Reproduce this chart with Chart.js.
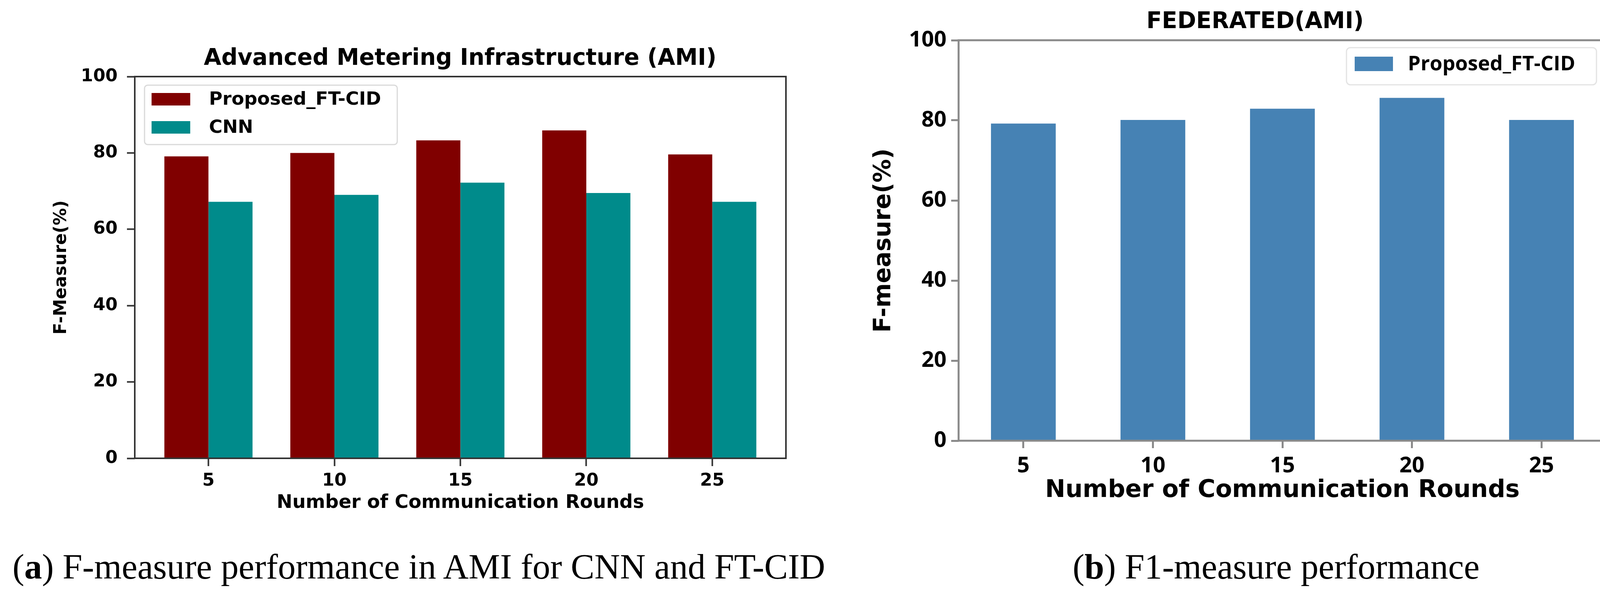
<!DOCTYPE html>
<html><head><meta charset="utf-8">
<script src="https://cdn.jsdelivr.net/npm/chart.js@4.4.0/dist/chart.umd.min.js"></script>
<style>
html,body{margin:0;padding:0;background:#fff;width:4141px;height:1528px;overflow:hidden;}
#chartA{position:absolute;left:0;top:0;}
#chartB{position:absolute;left:2100px;top:0;}
.cap{position:absolute;font-family:'Liberation Serif',serif;white-space:nowrap;color:#000;}
</style></head><body>
<canvas id="chartA" width="2357" height="1340"></canvas>
<canvas id="chartB" width="2041" height="1340"></canvas>
<div class="cap" id="capA" style="left:32px">(<b>a</b>) F-measure performance in AMI for CNN and FT-CID</div>
<div class="cap" id="capB" style="left:2746px">(<b>b</b>) F1-measure performance</div>
<script>
// ---- data ----
const rounds = ['5', '10', '15', '20', '25'];
const amiProposed = [79.1, 80.0, 83.3, 85.9, 79.6];
const amiCNN = [67.2, 69.0, 72.2, 69.5, 67.2];
const fedProposed = [79.2, 80.1, 82.9, 85.6, 80.1];
const yTickValues = [0, 20, 40, 60, 80, 100];
const seriesNames = ['Proposed_FT-CID', 'CNN'];
const titleA = 'Advanced Metering Infrastructure (AMI)';
const titleB = 'FEDERATED(AMI)';
const xTitle = 'Number of Communication Rounds';
const yTitleA = 'F-Measure(%)';
const yTitleB = 'F-measure(%)';

// ---- plugins ----
const frame = {
  id: 'frame',
  afterDatasetsDraw(chart, args, o) {
    const {ctx, chartArea: a} = chart;
    ctx.save();
    ctx.strokeStyle = o.color; ctx.lineWidth = o.width;
    ctx.strokeRect(a.left, a.top, a.right - a.left, a.bottom - a.top);
    ctx.restore();
  }
};
const legendBox = {
  id: 'legendBox',
  afterDatasetsDraw(chart, args, o) {
    const {ctx, chartArea: a} = chart;
    const left = o.anchor === 'right' ? a.right - o.offsetX - o.width : a.left + o.offsetX;
    const top = a.top + o.offsetY;
    ctx.save();
    ctx.fillStyle = 'rgba(255,255,255,0.85)';
    ctx.strokeStyle = o.borderColor; ctx.lineWidth = o.borderWidth;
    ctx.beginPath(); ctx.roundRect(left, top, o.width, o.height, o.radius); ctx.fill(); ctx.stroke();
    ctx.font = o.font; ctx.textBaseline = 'middle'; ctx.textAlign = 'left';
    chart.data.datasets.forEach((ds, i) => {
      const sy = top + o.swatchY + i * o.rowGap;
      ctx.fillStyle = ds.backgroundColor;
      ctx.fillRect(left + o.swatchX, sy, o.swatchW, o.swatchH);
      ctx.fillStyle = '#000';
      ctx.fillText(ds.label, left + o.textX, sy + o.swatchH / 2 + 2);
    });
    ctx.restore();
  }
};
const titleShift = {
  id: 'titleShift',
  afterLayout(chart, args, o) {
    const t = chart.titleBlock;
    if (t) { t.left += o.dx; t.right += o.dx; }
  }
};

const dv = (size) => ({family: 'DejaVu Sans', weight: 'bold', size});
const os = (size) => ({family: 'Open Sans', weight: 'bold', size});

// ---- chart (a) ----
new Chart(document.getElementById('chartA'), {
  type: 'bar',
  data: {
    datasets: [
      {label: seriesNames[0], data: amiProposed.map((v, i) => ({x: i, y: v})), backgroundColor: '#800000',
       categoryPercentage: 0.7, barPercentage: 1.0},
      {label: seriesNames[1], data: amiCNN.map((v, i) => ({x: i, y: v})), backgroundColor: '#008b8b',
       categoryPercentage: 0.7, barPercentage: 1.0}
    ]
  },
  options: {
    responsive: false, animation: false, devicePixelRatio: 1,
    layout: {padding: {left: 0, right: 345, top: 0, bottom: 0}},
    plugins: {
      legend: {display: false}, tooltip: {enabled: false},
      title: {display: true, text: titleA, color: '#000', font: dv(58), padding: {top: 116, bottom: 10.4}},
      titleShift: {dx: 172},
      frame: {color: '#333333', width: 4},
      legendBox: {anchor: 'left', offsetX: 25, offsetY: 22, width: 647, height: 152, radius: 8,
        borderColor: '#d9d9d9', borderWidth: 3, swatchX: 18, swatchY: 20, swatchW: 99, swatchH: 32,
        rowGap: 72, textX: 165, font: 'bold 47px "DejaVu Sans"'}
    },
    scales: {
      x: {
        type: 'linear', min: -0.585, max: 4.585, offset: false,
        afterBuildTicks: (s) => { s.ticks = rounds.map((_, i) => ({value: i})); },
        afterFit: (s) => { s.height = 167; },
        border: {display: false},
        grid: {display: true, offset: false, drawOnChartArea: false, drawTicks: true, tickLength: 20, tickWidth: 4, tickColor: '#333333'},
        ticks: {autoSkip: false, maxRotation: 0, padding: 11, color: '#000', font: dv(45), callback: (v) => rounds[v]},
        title: {display: true, text: xTitle, color: '#000', font: dv(48), padding: {top: 0, bottom: 24}}
      },
      y: {
        min: 0, max: 100,
        afterBuildTicks: (s) => { s.ticks = yTickValues.map(v => ({value: v})); },
        afterFit: (s) => { s.width = 345; },
        border: {display: false},
        grid: {display: true, drawOnChartArea: false, drawTicks: true, tickLength: 20, tickWidth: 4, tickColor: '#333333'},
        ticks: {padding: 24, color: '#000', font: dv(45)},
        title: {display: true, text: yTitleA, color: '#000', font: dv(44), padding: {top: 131, bottom: 0}}
      }
    }
  },
  plugins: [frame, legendBox, titleShift]
});

// ---- chart (b) ----
new Chart(document.getElementById('chartB'), {
  type: 'bar',
  data: {
    labels: rounds,
    datasets: [
      {label: seriesNames[0], data: fedProposed, backgroundColor: '#4682b4', categoryPercentage: 0.5, barPercentage: 1.0}
    ]
  },
  options: {
    responsive: false, animation: false, devicePixelRatio: 1,
    layout: {padding: {left: 0, right: 29, top: 0, bottom: 0}},
    plugins: {
      legend: {display: false}, tooltip: {enabled: false},
      title: {display: true, text: titleB, color: '#000', font: dv(58), padding: {top: 22, bottom: 11.4}},
      titleShift: {dx: 107},
      frame: {color: '#8a8a8a', width: 5},
      legendBox: {anchor: 'right', offsetX: 25, offsetY: 19, width: 640, height: 95, radius: 10,
        borderColor: '#e3e3e3', borderWidth: 3, swatchX: 21, swatchY: 23, swatchW: 98, swatchH: 37,
        rowGap: 60, textX: 157, font: 'bold 52px "Open Sans"'}
    },
    scales: {
      x: {
        type: 'category', offset: true,
        afterFit: (s) => { s.height = 212; },
        border: {display: false},
        grid: {display: true, offset: false, drawOnChartArea: false, drawTicks: true, tickLength: 19, tickWidth: 5, tickColor: '#8a8a8a'},
        ticks: {maxRotation: 0, padding: 12, color: '#000', font: os(56)},
        title: {display: true, text: xTitle, color: '#000', font: dv(62), padding: {top: 0, bottom: 47}}
      },
      y: {
        min: 0, max: 100,
        afterBuildTicks: (s) => { s.ticks = yTickValues.map(v => ({value: v})); },
        afterFit: (s) => { s.width = 354; },
        border: {display: false},
        grid: {display: true, drawOnChartArea: false, drawTicks: true, tickLength: 19, tickWidth: 5, tickColor: '#8a8a8a'},
        ticks: {padding: 12, color: '#000', font: os(56)},
        title: {display: true, text: yTitleB, color: '#000', font: dv(60), padding: {top: 127, bottom: 0}}
      }
    }
  },
  plugins: [frame, legendBox, titleShift]
});

// ---- captions: fit font size to the reference width ----
(function () {
  const a = document.getElementById('capA'), b = document.getElementById('capB');
  a.style.fontSize = '100px';
  const w = a.getBoundingClientRect().width;
  const f = 100 * 2081 / w;
  [a, b].forEach(el => {
    el.style.fontSize = f + 'px';
    el.style.lineHeight = f + 'px';
    el.style.top = (1482 - 0.8375 * f) + 'px';
  });
})();
</script>
</body></html>
